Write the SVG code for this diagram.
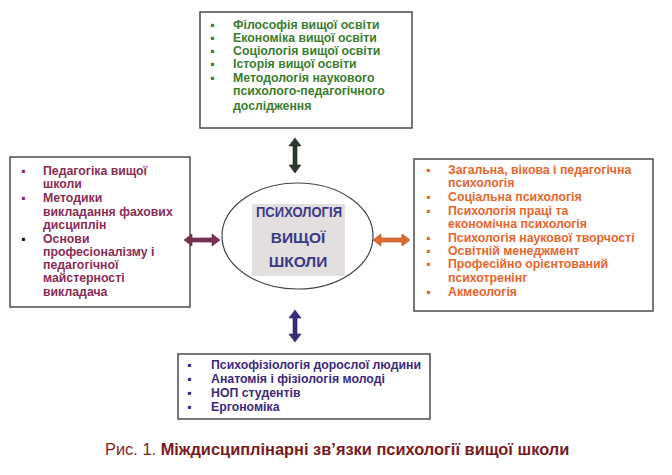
<svg xmlns="http://www.w3.org/2000/svg" width="672" height="475" viewBox="0 0 672 475">
<style>
.box{fill:#fff;stroke:#555;stroke-width:1.6}
.t{font-family:"Liberation Sans",Arial,sans-serif;font-weight:bold;font-size:12.3px}
.g{fill:#3b7d2f}.m{fill:#8a2c55}.o{fill:#e8652c}.p{fill:#3c2a7c}
.c{font-family:"Liberation Sans",Arial,sans-serif;font-weight:bold;font-size:15.5px;fill:#3b3888;text-anchor:middle}
.cap{font-family:"Liberation Sans",Arial,sans-serif;font-size:16.4px;fill:#8a1c1c}
</style>
<rect width="672" height="475" fill="#fff"/>
<g id="top">
<rect class="box" x="200" y="12" width="212" height="116"/>
<text class="t g"><tspan x="210" y="29">▪</tspan><tspan x="233" y="29">Філософія вищої освіти</tspan>
<tspan x="210" y="42">▪</tspan><tspan x="233" y="42">Економіка вищої освіти</tspan>
<tspan x="210" y="55">▪</tspan><tspan x="233" y="55">Соціологія вищої освіти</tspan>
<tspan x="210" y="68">▪</tspan><tspan x="233" y="68">Історія вищої освіти</tspan>
<tspan x="210" y="82">▪</tspan><tspan x="233" y="82">Методологія наукового</tspan>
<tspan x="233" y="95">психолого-педагогічного</tspan>
<tspan x="233" y="110">дослідження</tspan></text>
</g>
<g id="left">
<rect class="box" x="10" y="157" width="180" height="150"/>
<text class="t m"><tspan x="21" y="175">▪</tspan><tspan x="43" y="175">Педагогіка вищої</tspan>
<tspan x="43" y="188">школи</tspan>
<tspan x="21" y="202">▪</tspan><tspan x="43" y="202">Методики</tspan>
<tspan x="43" y="216">викладання фахових</tspan>
<tspan x="43" y="229">дисциплін</tspan>
<tspan x="21" y="243" fill="#111">▪</tspan><tspan x="43" y="243">Основи</tspan>
<tspan x="43" y="256">професіоналізму і</tspan>
<tspan x="43" y="269">педагогічної</tspan>
<tspan x="43" y="282">майстерності</tspan>
<tspan x="43" y="296">викладача</tspan></text>
</g>
<g id="right">
<rect class="box" x="414" y="159" width="239" height="152"/>
<text class="t o"><tspan x="426" y="174">▪</tspan><tspan x="448" y="174">Загальна, вікова і педагогічна</tspan>
<tspan x="448" y="187">психологія</tspan>
<tspan x="426" y="201">▪</tspan><tspan x="448" y="201">Соціальна психологія</tspan>
<tspan x="426" y="215">▪</tspan><tspan x="448" y="215">Психологія праці та</tspan>
<tspan x="448" y="228">економічна психологія</tspan>
<tspan x="426" y="242">▪</tspan><tspan x="448" y="242">Психологія наукової творчості</tspan>
<tspan x="426" y="255">▪</tspan><tspan x="448" y="255">Освітній менеджмент</tspan>
<tspan x="426" y="268">▪</tspan><tspan x="448" y="268">Професійно орієнтований</tspan>
<tspan x="448" y="282">психотренінг</tspan>
<tspan x="426" y="296">▪</tspan><tspan x="448" y="296">Акмеологія</tspan></text>
</g>
<g id="bottom">
<rect class="box" x="178" y="354" width="252" height="65"/>
<text class="t p"><tspan x="187" y="369">▪</tspan><tspan x="211" y="369">Психофізіологія дорослої людини</tspan>
<tspan x="187" y="383">▪</tspan><tspan x="211" y="383">Анатомія і фізіологія молоді</tspan>
<tspan x="187" y="397">▪</tspan><tspan x="211" y="397">НОП студентів</tspan>
<tspan x="187" y="411">▪</tspan><tspan x="211" y="411">Ергономіка</tspan></text>
</g>
<g id="center">
<ellipse cx="297.5" cy="236" rx="75.5" ry="53" fill="#fff" stroke="#444" stroke-width="1.2"/>
<rect x="252" y="204" width="93" height="72" fill="#e3dfdf"/>
<text class="c" x="299" y="217" textLength="86" lengthAdjust="spacingAndGlyphs">ПСИХОЛОГІЯ</text>
<text class="c" x="298" y="243">ВИЩОЇ</text>
<text class="c" x="298" y="267">ШКОЛИ</text>
</g>
<g id="connectors">
<polygon fill="#2b3a2c" stroke="#1e261e" stroke-width="0.6" points="295,138 301,146 297,146 297,165 301,165 295,173 289,165 293,165 293,146 289,146"/>
<polygon fill="#7a3052" stroke="#5a2038" stroke-width="0.6" points="184,240 192,234 192,238 212,238 212,234 220,240 212,246 212,242 192,242 192,246"/>
<polygon fill="#e06a30" stroke="#a04a20" stroke-width="0.6" points="373,240 381,234 381,238 402,238 402,234 410,240 402,246 402,242 381,242 381,246"/>
<polygon fill="#3c2a7c" stroke="#2a1c5a" stroke-width="0.6" points="295,310 301,318 297,318 297,334 301,334 295,342 289,334 293,334 293,318 289,318"/>
</g>
<text class="cap" x="105" y="455">Рис. 1. <tspan font-weight="bold" fill="#7a1a1e">Міждисциплінарні зв’язки психології вищої школи</tspan></text>
</svg>
